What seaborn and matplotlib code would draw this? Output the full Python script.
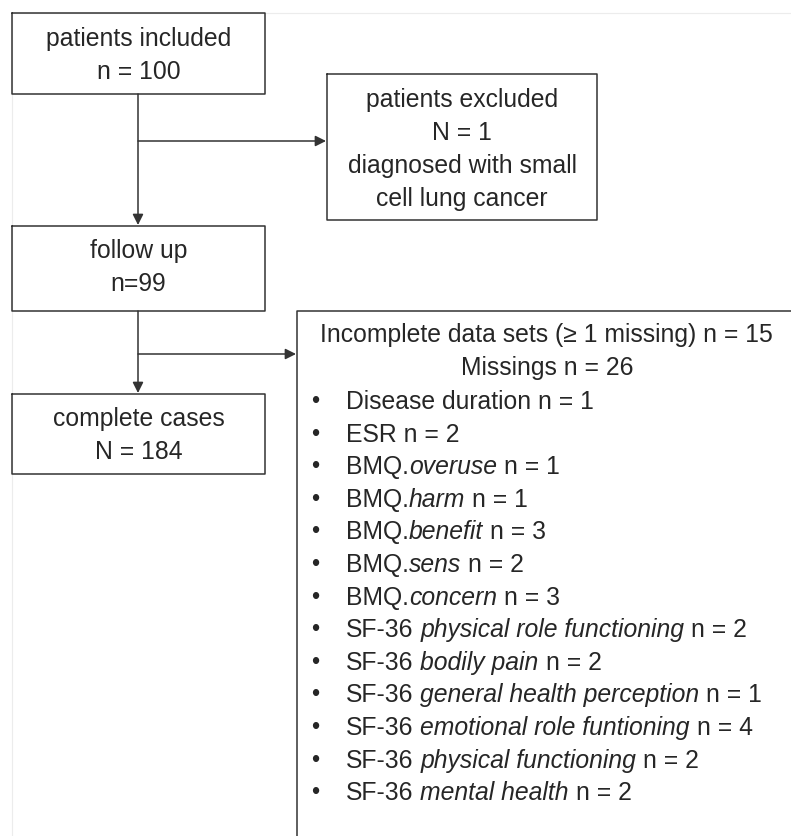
import matplotlib.pyplot as plt
import seaborn as sns

# --- flow counts ---
n_included = 100
n_excluded = 1
n_follow_up = 99
n_complete = 184
n_incomplete = 15
n_missings = 26

# --- missing values per variable ---
miss_prefix = ["Disease duration", "ESR", "BMQ.", "BMQ.", "BMQ.", "BMQ.", "BMQ.",
               "SF-36 ", "SF-36 ", "SF-36 ", "SF-36 ", "SF-36 ", "SF-36 "]
miss_italic = ["", "", "overuse", "harm", "benefit", "sens", "concern",
               "physical role functioning", "bodily pain", "general health perception",
               "emotional role funtioning", "physical functioning", "mental health"]
miss_counts = [1, 2, 1, 1, 3, 2, 3, 2, 2, 1, 4, 2, 2]

sns.set_style("white")
plt.rcParams['font.family'] = ['Liberation Sans', 'DejaVu Sans']

LC = '#333333'
TC = '#262626'
FS = 17.8

fig = plt.figure(figsize=(7.91, 8.37), dpi=100)
ax = fig.add_axes([0, 0, 1, 1])
ax.set_xlim(0, 791)
ax.set_ylim(837, 0)
ax.axis('off')

# faint frame of the original figure
ax.plot([12, 791], [14, 14], color='#ececec', lw=0.8, zorder=0)
ax.plot([12, 12], [14, 837], color='#ececec', lw=0.8, zorder=0)


def box(x0, y0, x1, y1, lines, ys):
    ax.plot([x0, x1, x1, x0, x0], [y0, y0, y1, y1, y0], color=LC, lw=1.1)
    cx = (x0 + x1) / 2
    for txt, y in zip(lines, ys):
        ax.text(cx, y, txt, ha='center', va='center', fontsize=FS, color=TC)


def arrow(x0, y0, x1, y1):
    ax.annotate('', xy=(x1, y1), xytext=(x0, y0),
                arrowprops=dict(arrowstyle='-|>', color=LC, lw=1.1,
                                mutation_scale=16, shrinkA=0, shrinkB=0))


box(12, 14, 265, 95, ["patients included", f"n = {n_included}"], [39, 72])
box(327, 75, 597, 221, ["patients excluded", f"N = {n_excluded}",
                        "diagnosed with small", "cell lung cancer"], [100, 133, 166, 199])
box(12, 227, 265, 312, ["follow up", f"n={n_follow_up}"], [251, 284])
box(12, 395, 265, 475, ["complete cases", f"N = {n_complete}"], [419, 452])

arrow(138, 95, 138, 226)
arrow(138, 142, 326, 142)
arrow(138, 312, 138, 394)
arrow(138, 355, 296, 355)

# open box for incomplete data sets
ax.plot([791, 297, 297], [312, 312, 837], color=LC, lw=1.1)
ax.text(546, 335, f"Incomplete data sets (\u2265 1 missing) n = {n_incomplete}",
        ha='center', va='center', fontsize=FS, color=TC)
ax.text(547, 368, f"Missings n = {n_missings}",
        ha='center', va='center', fontsize=FS, color=TC)

fig.canvas.draw()
r = fig.canvas.get_renderer()


def width(t):
    bb = t.get_window_extent(r)
    return bb.width


probe1 = ax.text(0, -100, "a a", fontsize=FS)
probe2 = ax.text(0, -100, "aa", fontsize=FS)
space = width(probe1) - width(probe2)
probe1.remove()
probe2.remove()

y = 402
for pre, ita, cnt in zip(miss_prefix, miss_italic, miss_counts):
    ax.text(315, y, "\u2022", ha='center', va='center', fontsize=17, color=TC)
    x = 346
    if ita:
        t = ax.text(x, y, pre.strip(), ha='left', va='center', fontsize=FS, color=TC)
        x += width(t) + (space if pre.endswith(' ') else 0)
        t = ax.text(x, y, ita, ha='left', va='center', fontsize=FS, color=TC, style='italic')
        x += width(t) + space
        ax.text(x, y, f"n = {cnt}", ha='left', va='center', fontsize=FS, color=TC)
    else:
        ax.text(x, y, f"{pre} n = {cnt}", ha='left', va='center', fontsize=FS, color=TC)
    y += 32.6

fig.savefig('out.png', dpi=100, facecolor='white')
